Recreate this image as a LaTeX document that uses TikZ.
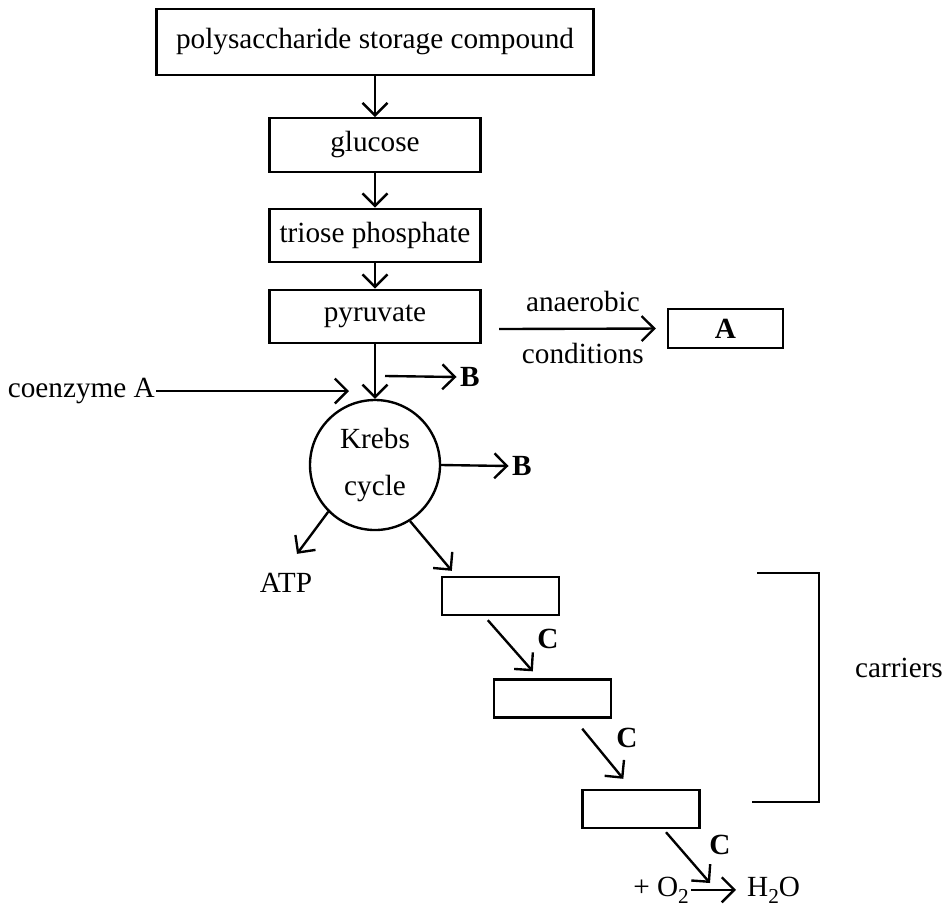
\documentclass[tikz,border=0pt]{standalone}
\usepackage{fontspec}
\setmainfont{Liberation Serif}
\usetikzlibrary{arrows.meta}
\newcommand{\lowtwo}{\raisebox{-2.8pt}{\fontsize{8.5}{9}\selectfont 2}}

\begin{document}
\begin{tikzpicture}[x=0.4pt,y=-0.4pt,line width=0.95pt,
    every node/.style={font=\fontsize{11.7}{14}\selectfont},
    tag/.style={font=\fontsize{11.7}{14}\selectfont\bfseries},
    box/.style={draw,inner sep=0pt,minimum width=84.4pt,minimum height=21.4pt},
    carrier/.style={draw,inner sep=0pt,minimum width=46.8pt,minimum height=15.2pt},
    arr/.style={-{Straight Barb[length=5pt,width=10pt]}}]
  \useasboundingbox (0,0) rectangle (950,913);
  % main chain
  \node[draw,inner sep=0pt,minimum width=174.8pt,minimum height=26.4pt] (poly) at (375,42) {polysaccharide storage compound};
  \node[box] (glucose) at (375,145) {glucose};
  \node[box] (triose) at (375,235.5) {triose phosphate};
  \node[box] (pyruvate) at (375,316.5) {pyruvate};
  \node[circle,draw,inner sep=0pt,minimum size=52pt,align=center,
        font=\fontsize{11.7}{18.5}\selectfont] (krebs) at (375,465) {Krebs\\cycle};
  \draw[arr] (poly) -- (glucose);
  \draw[arr] (glucose) -- (triose);
  \draw[arr] (triose) -- (pyruvate);
  \draw[arr] (pyruvate) -- (krebs);
  % anaerobic branch
  \node[draw,inner sep=0pt,minimum width=46pt,minimum height=15.6pt] (a) at (725.5,328.5) {\bfseries A};
  \coordinate (an) at (499,329);
  \draw[arr,shorten >=4.4pt] (an) -- (a.west)
    node[midway,yshift=11pt] (anaer) {anaerobic}
    node[midway,yshift=-10pt] (cond) {conditions};
  % coenzyme A and B
  \node[anchor=east,inner sep=0pt] (coa) at (156,391) {coenzyme A};
  \coordinate (coaend) at (349,391);
  \draw[arr] (coa.east) -- (coaend);
  \coordinate (bstart) at (385,376);
  \node[tag,anchor=west,inner sep=0pt] (b1) at (459,377) {B};
  \draw[arr] (bstart) -- ([xshift=-1pt]b1.west);
  \node[tag,anchor=west,inner sep=0pt] (b2) at (511,466) {B};
  \draw[arr] (krebs.east) -- ([xshift=-1pt]b2.west);
  % ATP
  \node (atp) at (286,583) {ATP};
  \draw[arr] (krebs.-135) -- ([shift={(11,-10)}]atp.north);
  % carriers
  \node[carrier] (c1) at (500.5,596) {};
  \node[carrier] (c2) at (552.5,698.5) {};
  \node[carrier] (c3) at (641,809) {};
  \draw[arr] (krebs.-58) -- ([shift={(11,-5)}]c1.north west);
  \draw[arr] ([shift={(47,4)}]c1.south west) -- ([shift={(40,-7)}]c2.north west);
  \draw[arr] ([shift={(-30,10)}]c2.south east) -- ([shift={(42,-10)}]c3.north west);
  \node[tag] (cl1) at (548,639) {C};
  \node[tag] (cl2) at (627,738) {C};
  \node[tag] (cl3) at (720,845) {C};
  % water
  \node[anchor=base east,inner sep=0pt] (o2) at (690,896) {+ O\lowtwo};
  \node[anchor=base west,inner sep=0pt] (h2o) at (746,896) {H\lowtwo O};
  \coordinate (wtip) at (710,883);
  \draw[arr] ([shift={(25,3)}]c3.south) -- (wtip);
  \draw[arr,shorten >=4pt] ([xshift=0.4pt]o2.east) -- (h2o.west);
  % bracket
  \draw (757,573) -- (819,573) -- (819,802) -- (752,802);
  \node (carr) at (899,668) {carriers};
\end{tikzpicture}
\end{document}
